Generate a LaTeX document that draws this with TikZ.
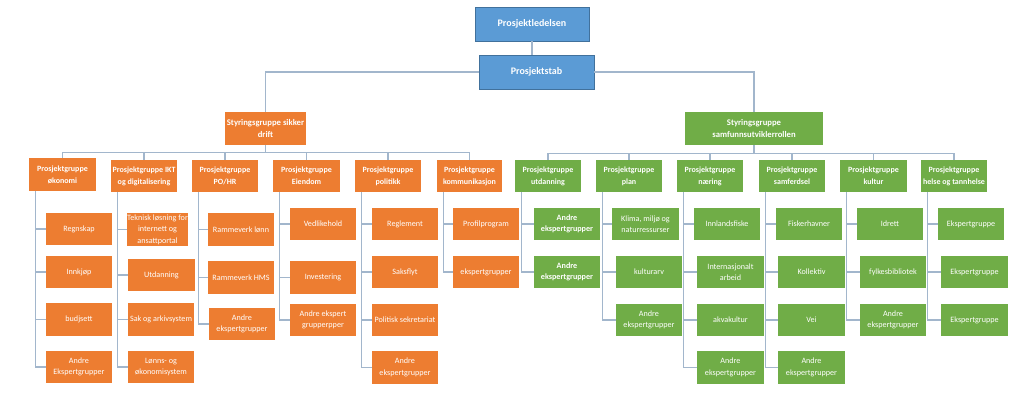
\documentclass[tikz,border=0pt]{standalone}
\usepackage{fontspec}
\setmainfont{Carlito}
\usetikzlibrary{calc}
\definecolor{orF}{HTML}{ED7D31}
\definecolor{grF}{HTML}{70AD47}
\definecolor{blF}{HTML}{5B9BD5}
\definecolor{blD}{HTML}{41719C}
\definecolor{lnC}{HTML}{A2B6CC}
\newcommand{\bx}[7]{\pgfmathsetmacro\BXw{(#5-#3)*0.75}\pgfmathsetmacro\BXh{(#6-#4)*0.75}\node[#1,minimum width=\BXw pt,minimum height=\BXh pt] (#2) at ({(#3+#5)/2},{(#4+#6)/2}) {#7};}
\tikzset{
 basebox/.style={inner sep=0pt, align=center, text=white},
 topbox/.style={basebox, fill=blF, draw=blD, line width=0.6pt, font=\fontsize{7.5}{9}\selectfont\bfseries},
 sgo/.style={basebox, fill=orF, font=\fontsize{6.5}{9}\selectfont\bfseries},
 sgg/.style={basebox, fill=grF, font=\fontsize{6.5}{9}\selectfont\bfseries},
 lvo/.style={basebox, fill=orF, font=\fontsize{6}{9}\selectfont\bfseries},
 lvg/.style={basebox, fill=grF, font=\fontsize{6}{9}\selectfont\bfseries},
 cho/.style={basebox, fill=orF, font=\fontsize{6.1}{8.6}\selectfont},
 chg/.style={basebox, fill=grF, font=\fontsize{6.1}{8.6}\selectfont},
 conn/.style={draw=lnC, line width=0.9pt},
}
\begin{document}
\begin{tikzpicture}[x=0.75pt,y=-0.75pt]
\useasboundingbox[fill=white] (0,0) rectangle (1023,410);
% top
\bx{topbox}{led}{475}{7}{589}{41}{Prosjektledelsen}
\bx{topbox}{stab}{479}{55}{594}{89}{Prosjektstab}
\bx{sgo}{sgA}{225}{112}{306}{145}{Styringsgruppe sikker\\drift}
\bx{sgg}{sgB}{685}{112}{823}{145}{Styringsgruppe\\samfunnsutviklerrollen}
% level 2
\bx{lvo}{g1}{29}{158}{96}{191}{Prosjektgruppe\\økonomi}
\bx{lvo}{g2}{111}{160}{177}{192}{Prosjektgruppe IKT\\og digitalisering}
\bx{lvo}{g3}{192}{160}{258}{192}{Prosjektgruppe\\PO/HR}
\bx{lvo}{g4}{273}{160}{340}{192}{Prosjektgruppe\\Eiendom}
\bx{lvo}{g5}{355}{160}{421}{192}{Prosjektgruppe\\politikk}
\bx{lvo}{g6}{437}{160}{502}{192}{Prosjektgruppe\\kommunikasjon}
\bx{lvg}{g7}{515}{160}{581}{192}{Prosjektgruppe\\utdanning}
\bx{lvg}{g8}{596}{160}{662}{192}{Prosjektgruppe\\plan}
\bx{lvg}{g9}{677}{160}{743}{192}{Prosjektgruppe\\næring}
\bx{lvg}{g10}{759}{160}{825}{192}{Prosjektgruppe\\samferdsel}
\bx{lvg}{g11}{840}{160}{907}{192}{Prosjektgruppe\\kultur}
\bx{lvg}{g12}{921}{160}{987}{192}{Prosjektgruppe\\helse og tannhelse}
% children g1
\bx{cho}{a1}{46}{213}{112}{245}{Regnskap}
\bx{cho}{a2}{46}{256}{112}{288}{Innkjøp}
\bx{cho}{a3}{46}{303}{112}{336}{budjsett}
\bx{cho}{a4}{46}{351}{112}{383}{Andre\\Ekspertgrupper}
% g2
\bx{cho}{b1}{128}{213}{187}{246}{Teknisk løsning for\\internett og\\ansattportal}
\bx{cho}{b2}{128}{259}{195}{291}{Utdanning}
\bx{cho}{b3}{128}{303}{194}{336}{Sak og arkivsystem}
\bx{cho}{b4}{128}{351}{194}{383}{Lønns- og\\økonomisystem}
% g3
\bx{cho}{c1}{208}{213}{274}{246}{Rammeverk lønn}
\bx{cho}{c2}{208}{261}{274}{294}{Rammeverk HMS}
\bx{cho}{c3}{209}{308}{275}{340}{Andre\\ekspertgrupper}
% g4
\bx{cho}{d1}{290}{208}{356}{240}{Vedlikehold}
\bx{cho}{d2}{290}{261}{356}{294}{Investering}
\bx{cho}{d3}{290}{304}{356}{336}{Andre ekspert\\grupperpper}
% g5
\bx{cho}{e1}{372}{208}{438}{240}{Reglement}
\bx{cho}{e2}{372}{256}{438}{288}{Saksflyt}
\bx{cho}{e3}{372}{304}{438}{336}{Politisk sekretariat}
\bx{cho}{e4}{372}{351}{438}{384}{Andre\\ekspertgrupper}
% g6
\bx{cho}{f1}{453}{208}{519}{240}{Profilprogram}
\bx{cho}{f2}{453}{256}{519}{288}{ekspertgrupper}
% g7
\bx{chg}{h1}{534}{208}{600}{240}{\textbf{Andre}\\\textbf{ekspertgrupper}}
\bx{chg}{h2}{534}{256}{600}{288}{\textbf{Andre}\\\textbf{ekspertgrupper}}
% g8
\bx{chg}{i1}{612}{208}{679}{240}{Klima, miljø og\\naturressurser}
\bx{chg}{i2}{616}{256}{682}{288}{kulturarv}
\bx{chg}{i3}{616}{304}{682}{336}{Andre\\ekspertgrupper}
% g9
\bx{chg}{j1}{694}{208}{760}{240}{Innlandsfiske}
\bx{chg}{j2}{697}{256}{764}{288}{Internasjonalt\\arbeid}
\bx{chg}{j3}{697}{304}{764}{336}{akvakultur}
\bx{chg}{j4}{697}{351}{764}{384}{Andre\\ekspertgrupper}
% g10
\bx{chg}{k1}{776}{208}{842}{240}{Fiskerhavner}
\bx{chg}{k2}{778}{256}{845}{288}{Kollektiv}
\bx{chg}{k3}{778}{304}{845}{336}{Vei}
\bx{chg}{k4}{778}{351}{845}{384}{Andre\\ekspertgrupper}
% g11
\bx{chg}{l1}{857}{208}{923}{240}{Idrett}
\bx{chg}{l2}{860}{256}{926}{288}{fylkesbibliotek}
\bx{chg}{l3}{860}{304}{926}{336}{Andre\\ekspertgrupper}
% g12
\bx{chg}{m1}{938}{208}{1004}{240}{Ekspertgruppe}
\bx{chg}{m2}{941}{256}{1008}{288}{Ekspertgruppe}
\bx{chg}{m3}{941}{304}{1008}{336}{Ekspertgruppe}
% connectors top
\draw[conn] (led.south) -- (led.south |- stab.north);
\draw[conn] (stab.west) -| (sgA.north);
\draw[conn] (stab.east) -| (sgB.north);
\coordinate (busA) at ($(sgA.south)+(0,7)$);
\coordinate (busB) at ($(sgB.south)+(0,8)$);
\draw[conn] (sgA.south) -- (busA);
\draw[conn] (sgB.south) -- (busB);
\foreach \g in {g1,g2,g3,g4,g5,g6} \draw[conn] (busA) -| (\g.north);
\foreach \g in {g7,g8,g9,g10,g11,g12} \draw[conn] (busB) -| (\g.north);
% spines
\foreach \p/\cl in {g1/{a1,a2,a3,a4}, g2/{b1,b2,b3,b4}, g3/{c1,c2,c3}, g4/{d1,d2,d3}, g5/{e1,e2,e3,e4}, g6/{f1,f2}, g7/{h1,h2}, g8/{i1,i2,i3}, g9/{j1,j2,j3,j4}, g10/{k1,k2,k3,k4}, g11/{l1,l2,l3}, g12/{m1,m2,m3}}
  \foreach \c in \cl \draw[conn] ([xshift=5pt]\p.south west) |- (\c.west);
\end{tikzpicture}
\end{document}
